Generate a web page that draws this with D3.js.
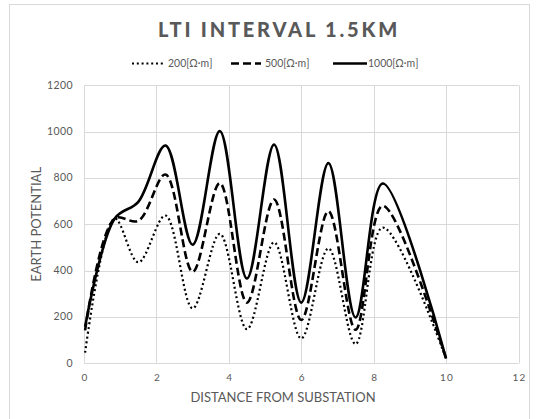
<!DOCTYPE html>
<html>
<head>
<meta charset="utf-8">
<style>
body { margin: 0; background: #fff; }
svg { font-family: Lato, "Open Sans", sans-serif; }
</style>
</head>
<body>
<svg width="539" height="419"></svg>
<script src="https://cdn.jsdelivr.net/npm/d3@7"></script>
<script>
// distance from substation (km)
var distance = [0.03, 0.85, 1.5, 2.25, 3.0, 3.75, 4.5, 5.25, 6.0, 6.75, 7.5, 8.25, 10];

// earth potential per soil resistivity
var rho200  = [46, 625, 436, 638, 237, 559, 147, 522, 107, 496, 83, 586, 20];
var rho500  = [142, 625, 615, 815, 395, 778, 262, 707, 187, 656, 145, 680, 20];
var rho1000 = [158, 625, 697, 940, 512, 1002, 366, 944, 262, 864, 198, 776, 20];

var xTicks = [0, 2, 4, 6, 8, 10, 12];
var yTicks = [0, 200, 400, 600, 800, 1000, 1200];

var seriesNames = ["200[Ω·m]", "500[Ω·m]", "1000[Ω·m]"];

var svg = d3.select("svg");
var grey = "#595959";

// chart border
svg.append("rect")
    .attr("x", 9.5).attr("y", 4.5)
    .attr("width", 520).attr("height", 430)
    .attr("fill", "#fff")
    .attr("stroke", "#d9d9d9");

var x = d3.scaleLinear().domain([0, 12]).range([84, 518.5]);
var y = d3.scaleLinear().domain([0, 1200]).range([363.3, 85.3]);

// gridlines
svg.append("g").selectAll("line")
    .data(yTicks)
    .enter().append("line")
    .attr("x1", x(0)).attr("x2", x(12))
    .attr("y1", function(d) { return Math.round(y(d)) + 0.5; })
    .attr("y2", function(d) { return Math.round(y(d)) + 0.5; })
    .attr("stroke", "#d9d9d9");

svg.append("g").selectAll("line")
    .data(xTicks)
    .enter().append("line")
    .attr("y1", y(0)).attr("y2", y(1200))
    .attr("x1", function(d) { return Math.round(x(d)) + 0.5; })
    .attr("x2", function(d) { return Math.round(x(d)) + 0.5; })
    .attr("stroke", "#d9d9d9");

// tick labels
svg.append("g").selectAll("text")
    .data(yTicks)
    .enter().append("text")
    .attr("x", 73)
    .attr("y", function(d) { return y(d) + 3.5; })
    .attr("text-anchor", "end")
    .attr("font-size", "10.5px")
    .attr("letter-spacing", "0.4px")
    .attr("fill", grey)
    .text(function(d) { return d; });

svg.append("g").selectAll("text")
    .data(xTicks)
    .enter().append("text")
    .attr("x", function(d) { return x(d) + 1; })
    .attr("y", 381)
    .attr("text-anchor", "middle")
    .attr("font-size", "10px")
    .attr("letter-spacing", "1.2px")
    .attr("fill", grey)
    .text(function(d) { return d; });

// axis titles
svg.append("text")
    .attr("x", 283).attr("y", 402)
    .attr("text-anchor", "middle")
    .attr("font-size", "13px")
    .attr("fill", grey)
    .text("DISTANCE FROM SUBSTATION");

svg.append("text")
    .attr("transform", "translate(41," + y(600) + ") rotate(-90)")
    .attr("text-anchor", "middle")
    .attr("font-size", "13px")
    .attr("fill", grey)
    .text("EARTH POTENTIAL");

// title
svg.append("text")
    .attr("x", 279).attr("y", 37)
    .attr("text-anchor", "middle")
    .attr("font-size", "20px")
    .attr("font-weight", "900")
    .attr("letter-spacing", "2.8px")
    .attr("fill", grey)
    .text("LTI INTERVAL 1.5KM");

// series
var styles = [
  { data: rho200,  width: 2.2, dash: "2,2.8" },
  { data: rho500,  width: 2.6, dash: "8,4" },
  { data: rho1000, width: 2.6, dash: null }
];

var line = d3.line()
    .x(function(d) { return x(d[0]); })
    .y(function(d) { return y(d[1]); })
    .curve(d3.curveCatmullRom.alpha(0.5));

styles.forEach(function(s) {
  svg.append("path")
      .datum(d3.zip(distance, s.data))
      .attr("d", line)
      .attr("fill", "none")
      .attr("stroke", "#000")
      .attr("stroke-width", s.width)
      .attr("stroke-dasharray", s.dash);
});

// legend
var legendX = [[132, 164, 168], [231, 261, 265], [333, 367, 368]];
var legend = svg.append("g");
styles.forEach(function(s, i) {
  legend.append("line")
      .attr("x1", legendX[i][0]).attr("x2", legendX[i][1])
      .attr("y1", 63.5).attr("y2", 63.5)
      .attr("stroke", "#000")
      .attr("stroke-width", s.width)
      .attr("stroke-dasharray", s.dash);
  legend.append("text")
      .attr("x", legendX[i][2]).attr("y", 67)
      .attr("font-size", "10.5px")
      .attr("fill", grey)
      .text(seriesNames[i]);
});
</script>
</body>
</html>
